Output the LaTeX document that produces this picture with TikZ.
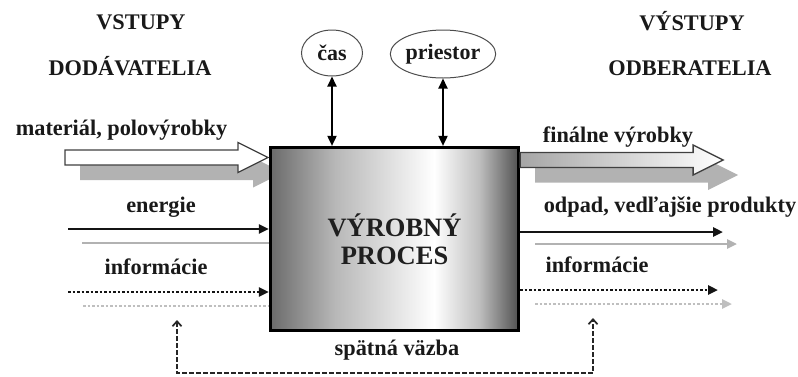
\documentclass[tikz,border=0pt]{standalone}
\usepackage{fontspec}
\setmainfont{Liberation Serif}
\usetikzlibrary{arrows.meta,shapes.geometric,backgrounds}

% metallic grey-white-grey fill of the process block
\pgfdeclarehorizontalshading{procshade}{100bp}{%
  color(0bp)=(black!58); color(25bp)=(black!58); color(38bp)=(black!28);
  color(58bp)=(white); color(67bp)=(black!25); color(75bp)=(black!68);
  color(100bp)=(black!68)}

\begin{document}
\begin{tikzpicture}[x=1pt,y=-1pt,
  txt/.style={font=\fontsize{22.3}{25}\selectfont\bfseries, text=black!90, inner sep=0pt, anchor=base},
  procbox/.style={draw=black, line width=3.2pt, shading=procshade,
    minimum width=248pt, minimum height=183pt, inner sep=0pt, align=center,
    font=\fontsize{26.5}{28}\selectfont\bfseries, text=black!88},
  ring/.style={ellipse, draw=black!70, line width=1pt, inner sep=0pt,
    font=\fontsize{22}{24}\selectfont\bfseries, text=black!90},
  link/.style={line width=1.8pt, {Triangle[length=10pt,width=9pt]}-{Triangle[length=10pt,width=9pt]}},
  flowline/.style={line width=2.5pt, draw=black!92, -{Triangle[length=10pt,width=9pt]}},
  ghostline/.style={line width=2.4pt, draw=black!30},
  infoline/.style={line width=2.8pt, black!92, dash pattern=on 2.8pt off 1.7pt, -{Triangle[length=10pt,width=9pt]}},
  ghostinfo/.style={line width=2.4pt, black!25, dash pattern=on 2.8pt off 1.7pt},
  loopline/.style={line width=1.7pt, black!85, dash pattern=on 4.5pt off 2.5pt,
    {Straight Barb[length=5pt,width=9pt]}-{Straight Barb[length=5pt,width=9pt]}},
  hollow/.style={draw=black!75, line width=1.3pt},
  shadowfill/.style={fill=black!30},
  pics/bigarrow/.style={code={%
    \path[pic actions] (0,-7.5) -- (173,-7.5) -- (173,-15) -- (203,0)
      -- (173,15) -- (173,7.5) -- (0,7.5) -- cycle;}}
]
\useasboundingbox (0,0) rectangle (798,376);

% column headings
\node[txt] (vst)  at (141,29) {VSTUPY};
\node[txt] (dod)  at (130,75) {DODÁVATELIA};
\node[txt] (vyst) at (692,30) {VÝSTUPY};
\node[txt] (odb)  at (690,75) {ODBERATELIA};

% the process block
\node[procbox] (box) at (394.5,239) {VÝROBNÝ\\PROCES};

% time and space resources
\node[ring, minimum width=61pt, minimum height=46pt] (cas) at (332,53) {čas};
\node[ring, minimum width=96pt, minimum height=48pt] (pri) at (443,54) {priestor};
\draw[link] (cas.south) -- (cas.south |- box.north);
\draw[link] (pri.south) -- (pri.south |- box.north);

% free ends of the flows
\coordinate (matS) at (65,157.5);
\coordinate (finY) at (0,160);
\coordinate (eneS) at (68,229);
\coordinate (eneG) at (82,243);
\coordinate (infS) at (68,292);
\coordinate (infG) at (83,306);
\coordinate (odpE) at (723,232);
\coordinate (odpG) at (737,244);
\coordinate (infE) at (718,290);
\coordinate (infH) at (732,304);
\coordinate (fbL) at (177,320);
\coordinate (fbR) at (593,318);
\coordinate (fbB) at (0,373);

% drop shadows of the wide arrows
\begin{pgfonlayer}{background}
  \pic[shadowfill] at ([shift={(15,15)}]matS) {bigarrow};
  \pic[shadowfill] at ([shift={(15,15)}]box.east |- finY) {bigarrow};
\end{pgfonlayer}

% material in, products out
\pic[hollow, fill=white] at (matS) {bigarrow};
\pic[hollow, left color=black!35, right color=white] at (box.east |- finY) {bigarrow};

% energy / waste
\draw[ghostline] (eneG) -- (eneG -| box.west);
\draw[flowline] (eneS) -- (eneS -| box.west);
\draw[ghostline, -{Triangle[length=10pt,width=9pt]}] (odpG -| box.east) ++(15,0) -- (odpG);
\draw[flowline] (odpE -| box.east) -- (odpE);

% information
\draw[ghostinfo] (infG) -- (infG -| box.west);
\draw[infoline] (infS) -- (infS -| box.west);
\draw[ghostinfo, -{Triangle[length=10pt,width=9pt]}] (infH -| box.east) ++(15,0) -- (infH);
\draw[infoline] (infE -| box.east) -- (infE);

% feedback loop
\draw[loopline] (fbL) -- (fbL |- fbB) -- (fbR |- fbB) -- (fbR);

% flow labels
\node[txt] (mat)  at (121.5,135) {materiál, polovýrobky};
\node[txt] (ene)  at (161,212) {energie};
\node[txt] (infL) at (156,274) {informácie};
\node[txt] (fin)  at (618,142) {finálne výrobky};
\node[txt] (odp)  at (670,212) {odpad, vedľajšie produkty};
\node[txt] (infR) at (597,272) {informácie};
\node[txt] (fb)   at (397,355) {spätná väzba};
\end{tikzpicture}
\end{document}
